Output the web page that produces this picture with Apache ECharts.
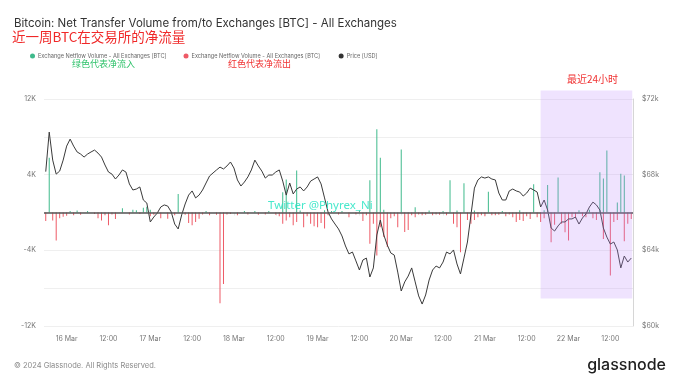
<!DOCTYPE html>
<html>
<head>
<meta charset="utf-8">
<script src="https://cdn.jsdelivr.net/npm/echarts@6/dist/echarts.min.js"></script>
<style>
html,body{margin:0;padding:0;background:#fff;}
#chart{width:680px;height:383px;}
</style>
</head>
<body>
<div id="chart"></div>
<script>
// Hourly timeline: 15 Mar 18:00 -> 22 Mar 18:00 (169 hours)
const startTime = Date.UTC(2024, 2, 15, 18);
const hourCount = 169;
const monthNames = ['Jan','Feb','Mar','Apr','May','Jun','Jul','Aug','Sep','Oct','Nov','Dec'];

// Price [USD]
const price = [
  68160,70250,68770,68030,68190,68770,69510,69880,69510,69200,
  69090,68930,69090,69200,69300,69140,68930,68510,68140,68030,
  67770,67980,68250,68140,67510,67190,67240,67350,66660,66500,
  65500,65760,65970,66290,66400,66340,66030,65390,65130,65870,
  66450,66920,67140,66770,66920,67190,67560,67930,68090,68250,
  68400,68300,68460,68670,68350,67720,67400,67610,67880,68250,
  68770,68460,68190,67820,67980,67980,68140,68250,67660,66920,
  67560,66980,67240,67350,67140,67350,67660,67770,67880,67510,
  66770,66030,65660,65390,65130,64760,64230,63810,63910,63440,
  62960,63490,63590,62590,63070,64810,65600,64810,64280,63860,
  63750,62850,61850,62330,62640,63070,62330,61590,61160,61640,
  62430,62960,63170,63070,63380,63910,63810,64020,63280,62750,
  63590,64440,65870,67290,67720,67880,67820,67880,67770,67720,
  67030,66660,66660,67140,67240,67140,67080,66870,67030,67290,
  67190,67080,66290,66660,66130,65180,65020,65290,65500,65500,
  65660,65660,65760,65390,65710,65920,66290,66550,66400,66130,
  65180,64700,64330,64440,64020,63070,63700,63380,63590
];

// Netflow inflow (green, positive) [BTC]
const netInflow = [
  0,5800,0,0,0,0,0,150,0,200,
  0,0,150,0,0,0,0,0,0,0,
  0,0,450,0,0,300,250,0,500,600,
  300,0,0,0,0,0,0,0,1950,0,
  0,0,0,0,0,0,150,0,0,0,
  0,0,0,0,0,0,0,150,0,0,
  150,0,0,0,150,0,0,0,2150,3500,
  0,0,4450,200,0,0,0,0,0,0,
  250,0,150,0,0,150,0,0,0,0,
  200,0,0,3400,0,8800,5800,300,0,0,
  0,0,6650,0,0,0,550,0,0,0,
  200,0,0,0,150,0,3400,0,200,0,
  3100,0,0,200,0,0,0,2200,0,0,
  0,150,0,0,0,0,250,0,0,0,
  3000,0,0,250,2900,0,0,3700,0,0,
  0,0,0,250,0,0,300,0,0,4250,
  3600,6550,0,0,1050,4100,3900,0,0
];

// Netflow outflow (red, negative) [BTC]
const netOutflow = [
  -900,0,-850,-2950,-600,-450,-350,0,-300,0,
  -250,0,0,0,-150,-600,-850,-300,-1350,-200,
  -700,0,0,0,-200,0,0,-150,0,0,
  -400,-250,0,-600,0,-650,0,-300,0,0,
  -250,-1100,-1350,-1000,-650,-200,0,-300,0,-250,
  -9600,-7550,-200,-150,0,-300,0,0,-200,0,
  0,-250,0,-200,0,0,-250,-400,-1200,-850,
  -500,-1350,-1000,0,-1550,-400,-1200,-1450,-1550,-1100,
  -1700,-300,0,0,-200,0,0,-500,0,-200,
  0,-900,-300,-3300,-1200,-4550,-1550,-2600,-3650,-600,
  -400,-1550,0,-2050,-1850,-300,-500,-200,-300,-250,
  0,-300,-200,-250,0,-300,0,-1200,-1550,-4200,
  0,-800,-1200,-800,-500,-300,-400,0,-300,-300,
  -250,0,-400,-200,-500,-1000,-800,-900,-400,-700,
  0,-500,-1000,-600,0,-3150,-1300,0,-1200,-2100,
  -2950,-500,-600,0,-400,-500,0,-600,-800,0,
  -2800,0,-6650,-1000,-800,0,-3050,-1200,-700
];

const leftTicks = [-12000, -4000, 4000, 12000];
const highlightStart = 142;            // 21 Mar 16:00 (last ~24h)
const highlightRange = [12900, -9100]; // BTC-axis extent of the highlight box

const categories = [];
for (let i = 0; i < hourCount; i++) {
  const d = new Date(startTime + i * 3600000);
  const hh = String(d.getUTCHours()).padStart(2, '0');
  categories.push(d.getUTCDate() + ' ' + monthNames[d.getUTCMonth()] + ' ' + hh + ':00');
}
function isMajor(v) { return v.endsWith(' 00:00') || v.endsWith(' 12:00'); }

const nameNet = 'Exchange Netflow Volume - All Exchanges [BTC]';
const chart = echarts.init(document.getElementById('chart'));
chart.setOption({
  animation: false,
  backgroundColor: '#ffffff',
  textStyle: { fontFamily: 'Inter, "Noto Sans", sans-serif' },
  grid: { left: 44, right: 47, top: 99, bottom: 57 },
  legend: {
    left: 30, top: 53, padding: 0, itemWidth: 5, itemHeight: 5, itemGap: 17, icon: 'circle',
    selectedMode: false,
    textStyle: { fontSize: 5.6, color: '#666', padding: [0, 0, 0, -2] },
    data: [nameNet, nameNet + ' ', 'Price [USD]']
  },
  xAxis: {
    type: 'category', data: categories, boundaryGap: true,
    axisLine: { show: false },
    axisTick: { show: true, alignWithLabel: true, length: 3, interval: (i, v) => isMajor(v), lineStyle: { color: '#e6e6e6' } },
    axisLabel: {
      interval: (i, v) => isMajor(v), margin: 9, fontSize: 7, color: '#777',
      formatter: v => v.endsWith(' 12:00') ? '12:00' : v.split(' ').slice(0, 2).join(' ')
    },
    splitLine: { show: false }
  },
  yAxis: [
    {
      type: 'value', min: -12000, max: 12000, interval: 4000,
      axisLine: { show: false }, axisTick: { show: false },
      splitLine: { lineStyle: { color: '#efefef', width: 1 } },
      axisLabel: {
        fontSize: 7, color: '#777', margin: 8,
        formatter: v => leftTicks.indexOf(v) >= 0 ? (v / 1000) + 'K' : ''
      }
    },
    {
      type: 'value', min: 60000, max: 72000, interval: 4000, position: 'right',
      axisLine: { show: true, lineStyle: { color: '#d6d6d6' } }, axisTick: { show: false },
      splitLine: { show: false },
      axisLabel: { fontSize: 7, color: '#777', margin: 9, formatter: v => '$' + (v / 1000) + 'k' }
    }
  ],
  series: [
    {
      name: nameNet, type: 'bar', data: netInflow, barWidth: 1, barGap: '-100%',
      itemStyle: { color: '#3fba8c' }, z: 2
    },
    {
      name: nameNet + ' ', type: 'bar', data: netOutflow, barWidth: 1, barGap: '-100%',
      itemStyle: { color: '#ee5a66' }, z: 2,
      markLine: {
        silent: true, symbol: 'none', label: { show: false },
        lineStyle: { color: '#555', width: 1.5, type: 'solid' },
        data: [{ yAxis: 0 }]
      }
    },
    {
      name: 'Price [USD]', type: 'line', yAxisIndex: 1, data: price,
      showSymbol: false, symbol: 'circle', itemStyle: { color: '#333' },
      lineStyle: { color: '#3a3a3a', width: 1 }, z: 3
    }
  ],
  graphic: [
    { id: 't1', type: 'text', left: 14, top: 18, style: { text: 'Bitcoin: Net Transfer Volume from/to Exchanges [BTC] - All Exchanges', fontSize: 11.5, fontFamily: 'Inter, sans-serif', fill: '#333' } },
    { id: 't2', type: 'text', left: 12, top: 30, style: { text: '近一周BTC在交易所的净流量', fontSize: 13.5, fontFamily: '"Noto Sans CJK SC", sans-serif', fill: '#f02828' } },
    { id: 't3', type: 'text', left: 72, top: 59, style: { text: '绿色代表净流入', fontSize: 9, fontFamily: '"Noto Sans CJK SC", sans-serif', fill: '#2ec26a' } },
    { id: 't4', type: 'text', left: 228, top: 59, style: { text: '红色代表净流出', fontSize: 9, fontFamily: '"Noto Sans CJK SC", sans-serif', fill: '#f03030' } },
    { id: 't5', type: 'text', left: 268, top: 200, z: 20, style: { text: 'Twitter @Phyrex_Ni', fontSize: 11.5, fontFamily: '"Noto Sans", sans-serif', fill: 'rgba(40,228,195,0.85)' } },
    { id: 't6', type: 'text', left: 14, top: 362, style: { text: '© 2024 Glassnode. All Rights Reserved.', fontSize: 7.5, fontFamily: 'Inter, sans-serif', fill: '#8a8a8a' } },
    { id: 't7', type: 'text', right: 14, top: 357, style: { text: 'glassnode', fontSize: 16, fontWeight: 500, fontFamily: 'Inter, sans-serif', fill: '#1e1e1e' } }
  ]
});

// Highlight box for the last 24 hours, positioned from data values through the axes
const hx0 = chart.convertToPixel({ xAxisIndex: 0 }, categories[highlightStart]);
const hx1 = chart.convertToPixel({ xAxisIndex: 0 }, categories[hourCount - 1]) + 1;
const hy0 = chart.convertToPixel({ yAxisIndex: 0 }, highlightRange[0]);
const hy1 = chart.convertToPixel({ yAxisIndex: 0 }, highlightRange[1]);
chart.setOption({
  graphic: [
    { id: 'hl', type: 'rect', z: 10, silent: true,
      shape: { x: hx0, y: hy0, width: hx1 - hx0, height: hy1 - hy0 },
      style: { fill: 'rgba(190,140,250,0.24)' } },
    { id: 'hlLabel', type: 'text', z: 11, silent: true,
      x: (hx0 + hx1) / 2 + 6, y: hy0 - 6,
      style: { text: '最近24小时', fontSize: 10, fontFamily: '"Noto Sans CJK SC", sans-serif', fill: '#f03030', align: 'center', verticalAlign: 'bottom' } }
  ]
});
</script>
</body>
</html>
